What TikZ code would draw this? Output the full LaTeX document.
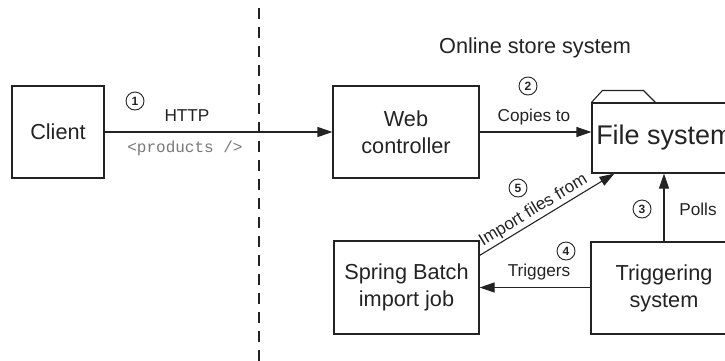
\documentclass[tikz,border=0pt]{standalone}
\usepackage{fontspec}
\setmainfont{Liberation Sans}
\setmonofont{Liberation Mono}
\usetikzlibrary{arrows.meta}
\definecolor{ink}{RGB}{35,35,35}
\definecolor{codegray}{RGB}{120,120,120}
\begin{document}
\begin{tikzpicture}[x=1pt,y=-1pt,
  box/.style={draw=ink, line width=1.1pt, inner sep=0pt, align=center,
    font=\fontsize{21.7}{27}\selectfont, text=ink},
  lbl/.style={font=\fontsize{17.2}{20}\selectfont, text=ink, inner sep=0pt},
  num/.style={circle, draw=ink, line width=0.9pt, inner sep=0pt, minimum size=18pt,
    font=\bfseries\fontsize{12}{12}\selectfont, text=ink},
  arr/.style={line width=1.1pt, draw=ink, -{Triangle[length=15pt,width=10pt]}}]
\useasboundingbox (0,0) rectangle (725,360);
\clip (0,0) rectangle (725,360);
% divider
\draw[ink, line width=1.3pt, dash pattern=on 11pt off 8pt] (259,8) -- (259,368);
% boxes
\node[box, minimum width=92pt, minimum height=92pt] (client) at (58,132) {Client};
\node[box, minimum width=146pt, minimum height=92pt] (web) at (406,132) {Web\\controller};
\node[box, minimum width=145pt, minimum height=93pt] (spring) at (406.5,287.5) {Spring Batch\\import job};
\node[box, minimum width=146pt, minimum height=92pt] (trig) at (664,288) {Triggering\\system};
\node[box, minimum width=145pt, minimum height=70pt, font=\fontsize{27}{30}\selectfont] (fs) at (664.5,138) {File system};
\draw[ink, line width=1.1pt] (fs.north west) -- ++(11,-12) -- ++(41,0) -- ++(12,12);
% title
\node[lbl, font=\fontsize{21.7}{26}\selectfont] (title) at (535,48) {Online store system};
% connectors
\draw[arr] (client.east) -- (web.west);
\draw[arr] (web.east) -- (fs.west |- web.east);
\draw[arr] (trig.north) -- (trig.north |- fs.south);
\draw[arr] (trig.west |- spring.east) -- (spring.east);
\draw[arr] ([yshift=-15pt]spring.north east) -- node[pos=0.44, sloped, above=2pt, lbl] (implbl) {Import files from} ([xshift=23pt]fs.south west);
% labels
\node[num] (n1) at (135,101) {1};
\node[lbl] (http) at (187,116) {HTTP};
\node[lbl, font=\ttfamily\fontsize{16}{18}\selectfont, text=codegray] (prod) at (185,148) {<products />};
\node[num] (n2) at (528,86) {2};
\node[lbl] (copies) at (534,117) {Copies to};
\node[num] (n3) at (642,209) {3};
\node[lbl] (polls) at (698,209) {Polls};
\node[num] (n4) at (566,251) {4};
\node[lbl] (triggers) at (539,272) {Triggers};
\node[num] (n5) at (518,188) {5};
\end{tikzpicture}
\end{document}
